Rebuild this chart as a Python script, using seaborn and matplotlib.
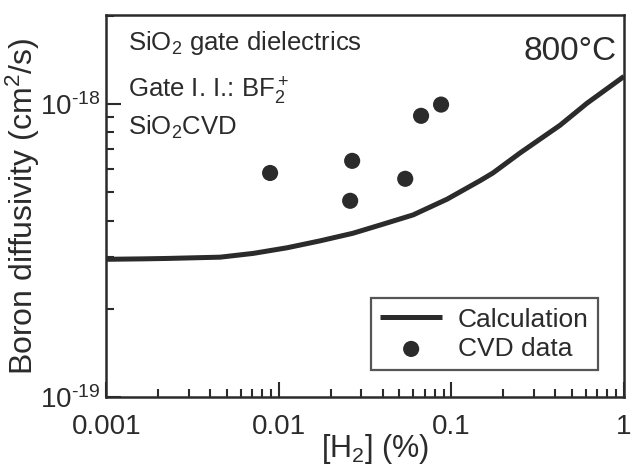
import numpy as np
import pandas as pd
import matplotlib
matplotlib.use("Agg")
import matplotlib.pyplot as plt
import seaborn as sns

# Calculation curve
calc_h2 = [0.001, 0.0016, 0.00225, 0.00457, 0.0071, 0.01117, 0.01734, 0.0269, 0.0386,
           0.060, 0.0944, 0.1466, 0.174, 0.25, 0.426, 0.611, 1.0]
calc_d = [2.95e-19, 2.96e-19, 2.97e-19, 3.00e-19, 3.09e-19, 3.23e-19, 3.41e-19, 3.62e-19, 3.86e-19,
          4.18e-19, 4.73e-19, 5.47e-19, 5.81e-19, 6.80e-19, 8.45e-19, 1.005e-18, 1.24e-18]

# CVD data points
cvd_h2 = [0.0089, 0.0266, 0.0259, 0.054, 0.0667, 0.0871]
cvd_d = [5.81e-19, 6.39e-19, 4.67e-19, 5.55e-19, 9.10e-19, 9.94e-19]

xticks = [0.001, 0.01, 0.1, 1]
xticklabels = ["0.001", "0.01", "0.1", "1"]
yticks = [1e-19, 1e-18]
yticklabels = [r"10$^{\text{-19}}$", r"10$^{\text{-18}}$"]

sns.set_theme(style="ticks")
plt.rcParams['font.family'] = ['Liberation Sans', 'DejaVu Sans']
plt.rcParams['mathtext.fontset'] = 'custom'
plt.rcParams['mathtext.rm'] = 'Liberation Sans'
plt.rcParams['mathtext.it'] = 'Liberation Sans'
plt.rcParams['mathtext.bf'] = 'Liberation Sans'
plt.rcParams['axes.unicode_minus'] = False

ink = "#2b2b2b"

fig = plt.figure(figsize=(6.4, 4.65), dpi=100)
ax = fig.add_axes([0.166, 0.146, 0.809, 0.822])

calc_df = pd.DataFrame({"h2": calc_h2, "d": calc_d})
cvd_df = pd.DataFrame({"h2": cvd_h2, "d": cvd_d})

sns.lineplot(data=calc_df, x="h2", y="d", ax=ax, color=ink, linewidth=3.6,
             label="Calculation", solid_capstyle="butt", solid_joinstyle="round")
sns.scatterplot(data=cvd_df, x="h2", y="d", ax=ax, color=ink, s=135,
                edgecolor="none", label="CVD data", zorder=3)

ax.set_xscale("log")
ax.set_yscale("log")
ax.set_xlim(0.001, 1)
ax.set_ylim(1e-19, 2.01e-18)

ax.set_xticks(xticks)
ax.set_xticklabels(xticklabels)
ax.set_yticks(yticks)
ax.set_yticklabels(yticklabels)
ax.tick_params(axis="both", which="major", direction="in", length=11, width=1.5,
               labelsize=20, colors=ink)
ax.tick_params(axis="x", which="major", pad=12)
ax.tick_params(axis="y", which="major", pad=4)
ax.tick_params(axis="both", which="minor", direction="in", length=6, width=1.5, colors=ink)
ax.yaxis.set_minor_formatter(matplotlib.ticker.NullFormatter())
ax.xaxis.set_minor_formatter(matplotlib.ticker.NullFormatter())

for sp in ax.spines.values():
    sp.set_color(ink)
    sp.set_linewidth(1.8)

ax.set_xlabel(r"[H$_2$] (%)", fontsize=22, color=ink)
ax.xaxis.set_label_coords(0.52, -0.09)
ax.set_ylabel(r"Boron diffusivity (cm$^2$/s)", fontsize=23, color=ink)
ax.yaxis.set_label_coords(-0.124, 0.5)

ax.text(0.042, 0.927, r"SiO$_2$ gate dielectrics", transform=ax.transAxes,
        fontsize=18.5, color=ink, va="center", ha="left")
ax.text(0.042, 0.800, r"Gate I. I.: BF$_2^+$", transform=ax.transAxes,
        fontsize=18.5, color=ink, va="center", ha="left")
ax.text(0.042, 0.705, r"SiO$_2$CVD", transform=ax.transAxes,
        fontsize=18.5, color=ink, va="center", ha="left")
ax.text(0.985, 0.905, "800°C", transform=ax.transAxes,
        fontsize=24, color=ink, va="center", ha="right")

leg = ax.legend(loc="lower right", bbox_to_anchor=(0.950, 0.0707), fontsize=19,
                frameon=True, fancybox=False, handlelength=2.35, borderpad=0.35,
                labelspacing=0.2, handletextpad=0.6, markerscale=1.0,
                borderaxespad=0.0)
leg.get_frame().set_edgecolor(ink)
leg.get_frame().set_linewidth(1.6)
for t in leg.get_texts():
    t.set_color(ink)

fig.savefig("out.png", dpi=100)
